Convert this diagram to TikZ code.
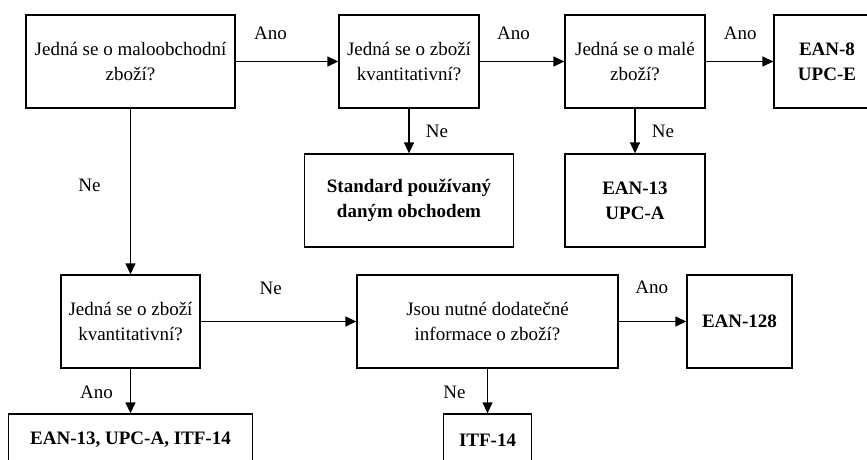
\documentclass[tikz,border=0pt]{standalone}
\usepackage{fontspec}
\setmainfont{Liberation Serif}
\usepackage{tikz}
\usetikzlibrary{arrows.meta}
\tikzset{box/.style={draw, rectangle, align=center, line width=1.3pt, minimum height=93pt, inner sep=0pt}, lbl/.style={inner sep=0pt}, arr/.style={line width=1.3pt, -{Triangle[length=11pt,width=10pt]}}}

\begin{document}
\begin{tikzpicture}[x=1pt, y=-1pt, font=\fontsize{19}{25}\selectfont]
      \useasboundingbox (0,0) rectangle (867,460);
      \clip (0,0) rectangle (867,460);
      \node [box, minimum width=209pt] (retail) at (130.5,61.5) {Jedná se o maloobchodní\\zboží?};
      \node [box, minimum width=140pt] (quant) at (409,61.5) {Jedná se o zboží\\kvantitativní?};
      \node [box, minimum width=140pt] (small) at (635,61.5) {Jedná se o malé\\zboží?};
      \node [box, minimum width=106pt, font=\fontsize{19}{25}\selectfont\bfseries] (ean8) at (827,61.5) {EAN-8\\UPC-E};
      \node [box, minimum width=209pt, font=\fontsize{19}{25}\selectfont\bfseries] (shop) at (409,200.5) {Standard používaný\\daným obchodem};
      \node [box, minimum width=140pt, font=\fontsize{19}{25}\selectfont\bfseries] (ean13) at (635,200.5) {EAN-13\\UPC-A};
      \node [box, minimum width=139pt] (quantb) at (130.5,321.5) {Jedná se o zboží\\kvantitativní?};
      \node [box, minimum width=261pt] (info) at (487.5,321.5) {Jsou nutné dodatečné\\informace o zboží?};
      \node [box, minimum width=105pt, font=\fontsize{19}{25}\selectfont\bfseries] (ean128) at (739.5,321.5) {EAN-128};
      \node [box, minimum width=244pt, minimum height=52pt, font=\fontsize{19}{25}\selectfont\bfseries] (multi) at (130.5,440) {EAN-13, UPC-A, ITF-14};
      \node [box, minimum width=88pt, minimum height=52pt, font=\fontsize{19}{25}\selectfont\bfseries] (itf) at (487.5,440) {ITF-14};
      \draw [arr] (retail) -- node [lbl, pos=.34, yshift=28pt] {Ano} (quant);
      \draw [arr] (quant) -- node [lbl, pos=.40, yshift=28pt] {Ano} (small);
      \draw [arr] (small) -- node [lbl, pos=.51, yshift=28pt] {Ano} (ean8);
      \draw [arr] (quant) -- node [lbl, pos=.5, xshift=28pt] {Ne} (shop);
      \draw [arr] (small) -- node [lbl, pos=.5, xshift=28pt] {Ne} (ean13);
      \draw [arr] (retail) -- node [lbl, pos=.46, xshift=-41pt] {Ne} (quantb);
      \draw [arr] (quantb) -- node [lbl, pos=.45, yshift=33pt] {Ne} (info);
      \draw [arr] (info) -- node [lbl, pos=.49, yshift=34pt] {Ano} (ean128);
      \draw [arr] (quantb) -- node [lbl, pos=.54, xshift=-34pt] {Ano} (multi);
      \draw [arr] (info) -- node [lbl, pos=.54, xshift=-33pt] {Ne} (itf);
    \end{tikzpicture}
\end{document}
